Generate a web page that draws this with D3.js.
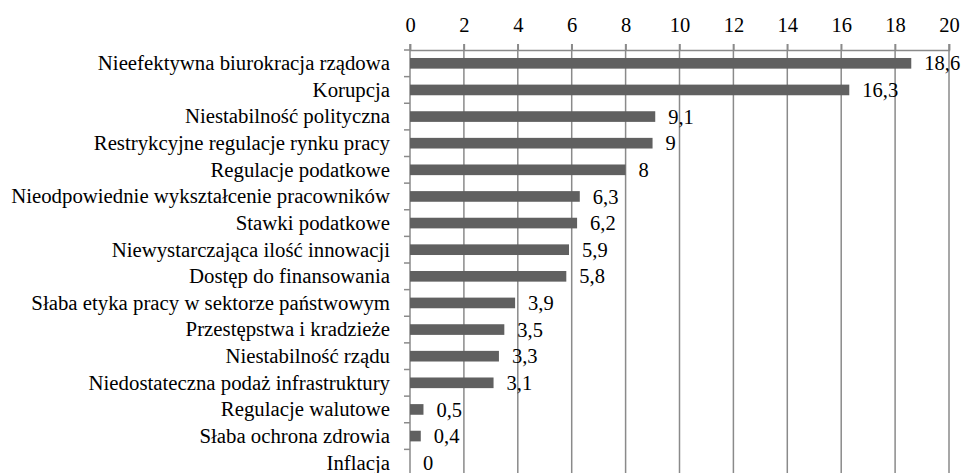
<!DOCTYPE html>
<html>
<head>
<meta charset="utf-8">
<script src="https://cdn.jsdelivr.net/npm/d3@7"></script>
<style>
  body { margin: 0; background: #fff; }
</style>
</head>
<body>
<div id="chart"></div>
<script>
const categories = [
    "Nieefektywna biurokracja rządowa",
    "Korupcja",
    "Niestabilność polityczna",
    "Restrykcyjne regulacje rynku pracy",
    "Regulacje podatkowe",
    "Nieodpowiednie wykształcenie pracowników",
    "Stawki podatkowe",
    "Niewystarczająca ilość innowacji",
    "Dostęp do finansowania",
    "Słaba etyka pracy w sektorze państwowym",
    "Przestępstwa i kradzieże",
    "Niestabilność rządu",
    "Niedostateczna podaż infrastruktury",
    "Regulacje walutowe",
    "Słaba ochrona zdrowia",
    "Inflacja"
];
const values = [18.6, 16.3, 9.1, 9, 8, 6.3, 6.2, 5.9, 5.8, 3.9, 3.5, 3.3, 3.1, 0.5, 0.4, 0];
const tickValues = [0, 2, 4, 6, 8, 10, 12, 14, 16, 18, 20];

const width = 964, height = 473;
const font = '"Liberation Serif"';
const svg = d3.select("#chart").append("svg")
    .attr("width", width).attr("height", height);

const x = d3.scaleLinear().domain([0, 20]).range([410, 949]);
const y = d3.scaleBand().domain(categories).range([50, 476]).paddingInner(0.6).paddingOuter(0.3);
const step = y.step();
const gridColor = "#8a8a8a";

// vertical grid
svg.append("g")
    .selectAll("line")
    .data(tickValues.slice(1))
    .join("line")
    .attr("x1", d => x(d)).attr("x2", d => x(d))
    .attr("y1", 44).attr("y2", height + 10)
    .attr("stroke", gridColor).attr("stroke-width", 1.5);

// top axis
svg.append("g")
    .attr("transform", "translate(0,50)")
    .call(d3.axisTop(x).tickValues(tickValues).tickSize(6).tickFormat(d3.format("d")))
    .call(g => g.select(".domain").attr("stroke", gridColor).attr("stroke-width", 1.5))
    .call(g => g.selectAll(".tick line").attr("stroke", gridColor).attr("stroke-width", 1.5))
    .call(g => g.selectAll(".tick text")
        .attr("y", -18)
        .attr("dy", 0)
        .style("font-family", font)
        .style("font-size", "20.5px")
        .attr("fill", "#000"));

// left axis line with band boundary ticks
const boundaries = d3.range(categories.length + 1).map(i => 50 + i * step);
svg.append("line")
    .attr("x1", x(0)).attr("x2", x(0))
    .attr("y1", 44).attr("y2", height + 10)
    .attr("stroke", gridColor).attr("stroke-width", 1.5);
svg.append("g")
    .selectAll("line")
    .data(boundaries)
    .join("line")
    .attr("x1", x(0) - 6).attr("x2", x(0))
    .attr("y1", d => d).attr("y2", d => d)
    .attr("stroke", gridColor).attr("stroke-width", 1.5);

// bars
svg.append("g")
    .selectAll("rect")
    .data(values)
    .join("rect")
    .attr("x", x(0))
    .attr("y", (d, i) => y(categories[i]))
    .attr("width", d => x(d) - x(0))
    .attr("height", y.bandwidth())
    .attr("fill", "#606060");

// category labels
svg.append("g")
    .selectAll("text")
    .data(categories)
    .join("text")
    .attr("x", 390)
    .attr("y", d => y(d) + y.bandwidth() / 2)
    .attr("dy", "0.33em")
    .attr("text-anchor", "end")
    .style("font-family", font)
    .style("font-size", "20.8px")
    .text(d => d);

// value labels
svg.append("g")
    .selectAll("text")
    .data(values)
    .join("text")
    .attr("x", d => x(d) + 13)
    .attr("y", (d, i) => y(categories[i]) + y.bandwidth() / 2)
    .attr("dy", "0.35em")
    .style("font-family", font)
    .style("font-size", "20.5px")
    .text(d => String(d).replace(".", ","));
</script>
</body>
</html>
